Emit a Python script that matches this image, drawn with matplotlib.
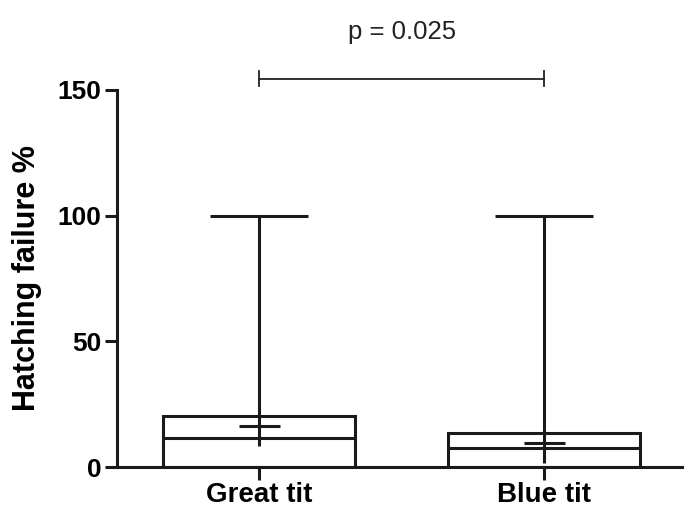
import numpy as np
import matplotlib
matplotlib.use('Agg')
import matplotlib.pyplot as plt

# Data (hatching failure %)
groups = ['Great tit', 'Blue tit']
q1 = [0.0, 0.0]
q3 = [20.3, 13.5]
medians = [11.5, 7.6]
means = [16.3, 9.6]
line_low = [8.4, 1.6]
whisker_high = [100.0, 100.0]
p_text = 'p = 0.025'
bracket_y = 154.5

plt.rcParams['font.family'] = ['Liberation Sans', 'DejaVu Sans']

fig = plt.figure(figsize=(6.84, 5.09), dpi=100)
ax = fig.add_axes([0.171, 0.0825, 0.829, 0.7407])

lw = 2.2
pos = np.arange(len(groups))
box_w = 0.674
cap_w = 0.344
mean_w = 0.144

# Boxes
ax.bar(pos, np.array(q3) - np.array(q1), bottom=q1, width=box_w,
       facecolor='white', edgecolor='#1a1a1a', linewidth=lw, zorder=2)
# Median lines
ax.hlines(medians, pos - box_w / 2, pos + box_w / 2, color='#1a1a1a', lw=lw, zorder=3)
# Vertical whisker lines
ax.vlines(pos, line_low, whisker_high, color='#1a1a1a', lw=lw, zorder=3)
# Top caps
ax.hlines(whisker_high, pos - cap_w / 2, pos + cap_w / 2, color='#1a1a1a', lw=lw, zorder=3)
# Mean markers
ax.hlines(means, pos - mean_w / 2, pos + mean_w / 2, color='#1a1a1a', lw=lw, zorder=3)

# Significance bracket
ax.plot([pos[0], pos[1]], [bracket_y, bracket_y], color='#222222', lw=1.3, clip_on=False)
ax.plot([pos[0], pos[0]], [bracket_y - 3, bracket_y + 3], color='#222222', lw=1.3, clip_on=False)
ax.plot([pos[1], pos[1]], [bracket_y - 3, bracket_y + 3], color='#222222', lw=1.3, clip_on=False)
ax.text(0.5, 173, p_text, ha='center', va='center', fontsize=18.5, color='#222222')

ax.set_xlim(-0.5, 1.49)
ax.set_ylim(0, 150)
ax.set_yticks([0, 50, 100, 150])
ax.set_xticks(pos)
ax.set_xticklabels(groups, fontsize=20, fontweight='bold')
for lab in ax.get_yticklabels():
    lab.set_fontsize(19)
    lab.set_fontweight('bold')
ax.set_ylabel('Hatching failure %', fontsize=22, fontweight='bold')
ax.yaxis.set_label_coords(-0.132, 0.5)

for side in ['top', 'right']:
    ax.spines[side].set_visible(False)
for side in ['left', 'bottom']:
    ax.spines[side].set_linewidth(lw)
    ax.spines[side].set_color('#1a1a1a')
ax.tick_params(axis='y', width=lw, length=9, color='#1a1a1a', pad=2)
ax.tick_params(axis='x', width=lw, length=9, color='#1a1a1a', pad=1.5)

fig.savefig('out.png', dpi=100)
